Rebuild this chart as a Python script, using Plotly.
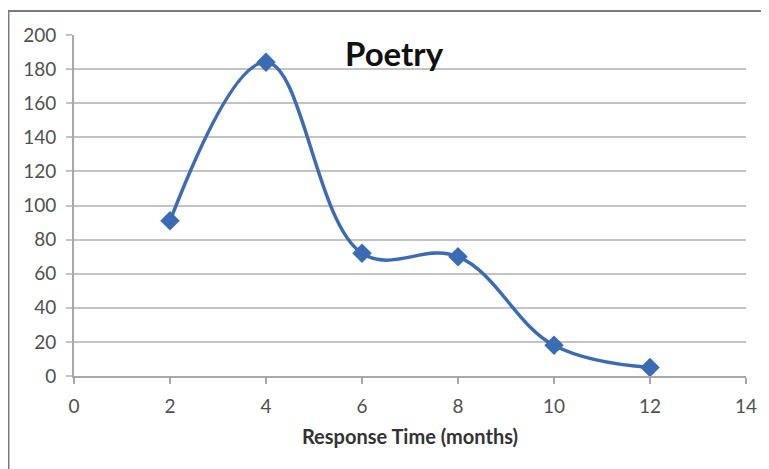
import plotly.graph_objects as go

# response time (months) and number of poetry submissions
months = [2, 4, 6, 8, 10, 12]
counts = [91, 184, 72, 70, 18, 5]

xticks = [0, 2, 4, 6, 8, 10, 12, 14]
yticks = [0, 20, 40, 60, 80, 100, 120, 140, 160, 180, 200]

blue = "#3a6cb6"
grid = "#c3c3c3"
tickfont = dict(family="Lato, Carlito, sans-serif", size=19, color="#505050")

fig = go.Figure()
fig.add_trace(go.Scatter(
    x=months, y=counts,
    mode="lines+markers",
    line=dict(color=blue, width=3.5, shape="spline", smoothing=1.1),
    marker=dict(symbol="diamond", size=15, color=blue),
    showlegend=False,
))

# page body adds an 8px offset, so the figure is a bit smaller than the window
fig.update_layout(
    width=761, height=461,
    margin=dict(l=66, r=23, t=27, b=93),
    paper_bgcolor="white", plot_bgcolor="white",
    annotations=[dict(
        text="<b>Poetry</b>", x=0.477, y=0.947, xref="paper", yref="paper",
        xanchor="center", yanchor="middle", showarrow=False,
        font=dict(family="Lato, sans-serif", size=33, color="#111111"),
    )],
    shapes=[dict(
        type="rect", xref="paper", yref="paper",
        x0=-0.0975, x1=1.2, y0=-0.5, y1=1.0704,
        line=dict(color="#7a7a7a", width=2), layer="below",
    )],
)

fig.update_xaxes(
    range=[0, 14], tickvals=xticks, showgrid=False,
    showline=True, linecolor="#a8a8a8", linewidth=2,
    ticks="outside", ticklen=6, tickcolor="#a8a8a8", tickwidth=2,
    tickfont=tickfont, ticklabelstandoff=6,
    title=dict(text="<b>Response Time (months)</b>", standoff=14,
               font=dict(family="Lato, sans-serif", size=20, color="#333333")),
    zeroline=False,
)
fig.update_yaxes(
    range=[0, 200], tickvals=yticks,
    showgrid=True, gridcolor=grid, gridwidth=2,
    showline=True, linecolor="#a8a8a8", linewidth=2,
    ticks="outside", ticklen=6, tickcolor=grid, tickwidth=2,
    tickfont=tickfont, ticklabelstandoff=6,
    zeroline=False,
)

fig.write_html("out.html")
